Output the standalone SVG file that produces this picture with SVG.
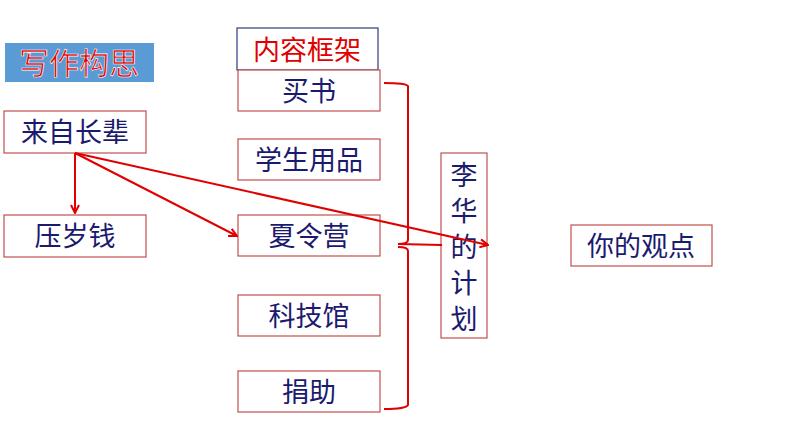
<svg xmlns="http://www.w3.org/2000/svg" width="794" height="447" viewBox="0 0 794 447">
<style>
.b{fill:#fff;stroke:#c0504d;stroke-width:1.2}
.t{font-family:"Noto Sans CJK SC",sans-serif;font-size:27px;fill:#1a1a6e;text-anchor:middle}
.c{stroke:#e00000;stroke-width:2;fill:none}
</style>
<defs><marker id="a" markerWidth="10" markerHeight="10" refX="9" refY="5" orient="auto" markerUnits="userSpaceOnUse"><path d="M1,1 L9,5 L1,9" fill="none" stroke="#e00000" stroke-width="2"/></marker></defs>
<rect width="794" height="447" fill="#fff"/>
<g id="title"><rect x="5" y="43" width="149" height="39" fill="#5b9bd5"/><text x="79" y="74" font-family="Noto Sans CJK SC,sans-serif" font-size="30" fill="#e00000" stroke="#fff" stroke-width="0.6" text-anchor="middle">写作构思</text></g>
<g id="frame"><rect x="237" y="28" width="141" height="42" fill="#fff" stroke="#2f3a7a" stroke-width="1.2"/><text x="307" y="60" class="t" fill="#e00000" style="fill:#e00000">内容框架</text></g>
<g id="n1"><rect class="b" x="238" y="70" width="142" height="41"/><text class="t" x="309" y="101">买书</text></g>
<g id="n2"><rect class="b" x="238" y="139" width="142" height="41"/><text class="t" x="309" y="170">学生用品</text></g>
<g id="n3"><rect class="b" x="238" y="215" width="142" height="41"/><text class="t" x="309" y="246">夏令营</text></g>
<g id="n4"><rect class="b" x="238" y="295" width="142" height="41"/><text class="t" x="309" y="326">科技馆</text></g>
<g id="n5"><rect class="b" x="238" y="371" width="142" height="41"/><text class="t" x="309" y="402">捐助</text></g>
<g id="elder"><rect class="b" x="4" y="111" width="142" height="42"/><text class="t" x="75" y="142">来自长辈</text></g>
<g id="money"><rect class="b" x="4" y="215" width="142" height="42"/><text class="t" x="75" y="246">压岁钱</text></g>
<g id="plan"><rect class="b" x="441" y="153" width="46" height="185"/>
<text class="t" x="464" y="185">李</text><text class="t" x="464" y="221">华</text><text class="t" x="464" y="257">的</text><text class="t" x="464" y="293">计</text><text class="t" x="464" y="329">划</text></g>
<g id="view"><rect class="b" x="571" y="225" width="141" height="41"/><text class="t" x="641" y="256">你的观点</text></g>
<g id="connectors">
<path class="c" d="M384,83 Q406,83 408,86 L408,240 Q408,244 398,244 L442,245 M398,247 Q408,247 408,251 L408,405 Q406,409 384,409"/>
<line class="c" x1="75" y1="153" x2="75" y2="213" marker-end="url(#a)"/>
<line class="c" x1="75" y1="153" x2="237" y2="236" marker-end="url(#a)"/>
<line class="c" x1="75" y1="153" x2="488" y2="245" marker-end="url(#a)"/>
</g>
</svg>
